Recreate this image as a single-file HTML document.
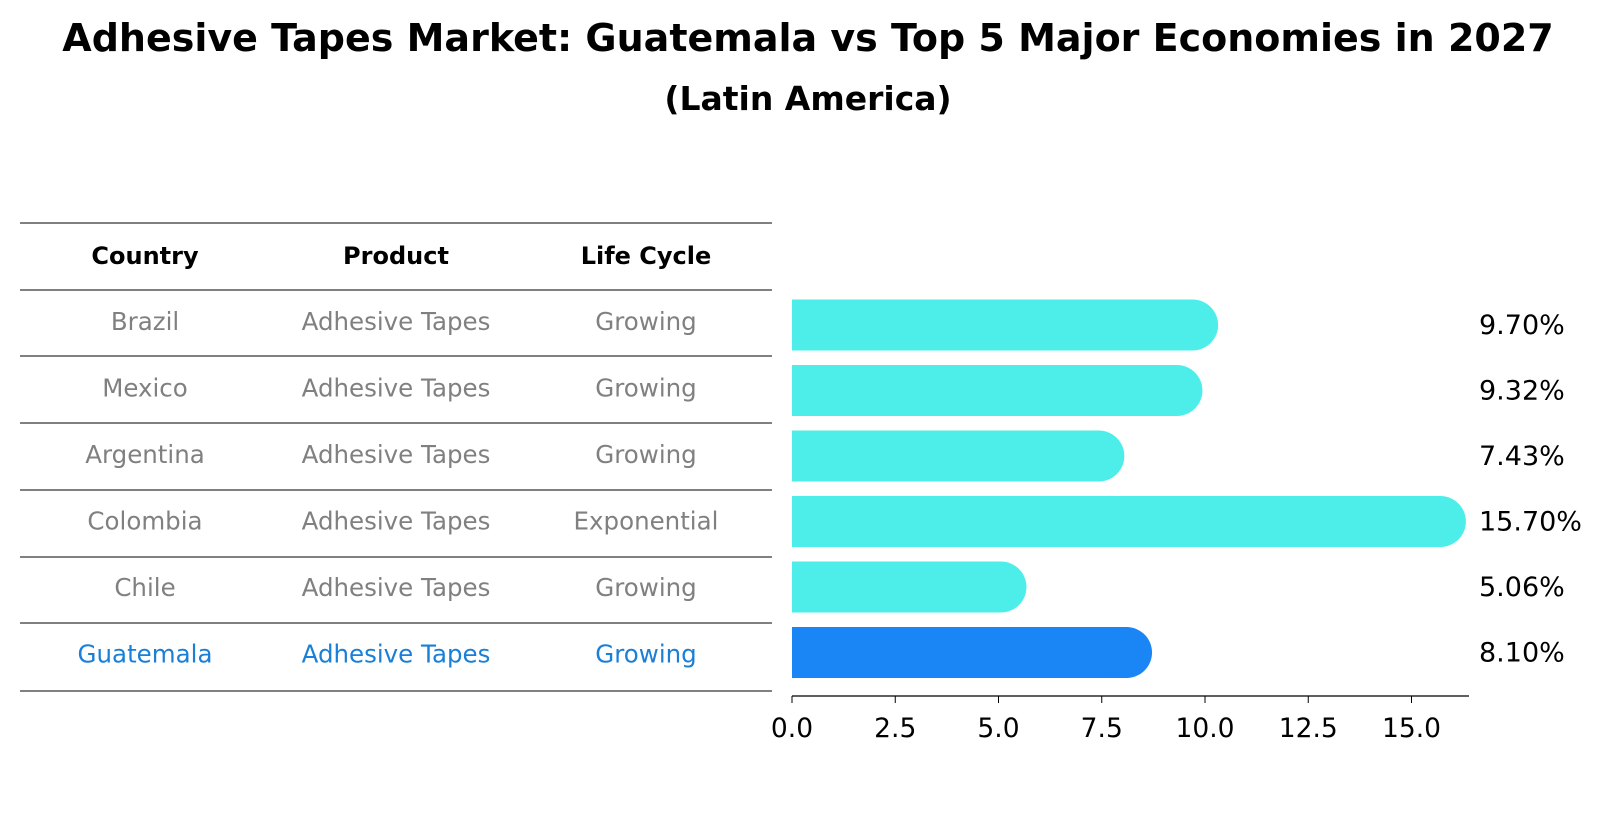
<!DOCTYPE html>
<html><head><meta charset="utf-8"><style>
body{margin:0;background:#fff;font-family:"Liberation Sans","DejaVu Sans",sans-serif;}
svg text{font-family:"DejaVu Sans","Liberation Sans",sans-serif;}
</style></head><body>
<svg id="c" width="1604" height="823" xmlns="http://www.w3.org/2000/svg">
<text x="808" y="51" text-anchor="middle" font-size="38" font-weight="bold">Adhesive Tapes Market: Guatemala vs Top 5 Major Economies in 2027</text>
<text x="808" y="110" text-anchor="middle" font-size="33" font-weight="bold">(Latin America)</text>
<g id="tbl"></g>
<g id="bars"></g>
</svg>
<script>
const countries=["Brazil","Mexico","Argentina","Colombia","Chile","Guatemala"];
const products=["Adhesive Tapes","Adhesive Tapes","Adhesive Tapes","Adhesive Tapes","Adhesive Tapes","Adhesive Tapes"];
const cycles=["Growing","Growing","Growing","Exponential","Growing","Growing"];
const values=[9.70,9.32,7.43,15.70,5.06,8.10];
const ticks=[0,2.5,5,7.5,10,12.5,15];
const NS="http://www.w3.org/2000/svg";
function mk(t,a,p){const e=document.createElementNS(NS,t);for(const k in a)e.setAttribute(k,a[k]);p.appendChild(e);return e;}
const tbl=document.getElementById('tbl'),bars=document.getElementById('bars');
const x=v=>792+v*41.3;
const rowY=i=>322+i*66.5;
const colX=[145,396,646];
const lineYs=[223,290,356,423,490,557,623,691];
lineYs.forEach((y,i)=>{const l=mk('line',{x1:20,x2:772,y1:y,y2:y,stroke:'#000','stroke-width':1},tbl);

});
["Country","Product","Life Cycle"].forEach((h,j)=>{const t=mk('text',{x:colX[j],y:264,'text-anchor':'middle','font-size':24,'font-weight':'bold'},tbl);t.textContent=h;

});
countries.forEach((c,i)=>{
 const col=c==="Guatemala"?'#1a7fd6':'#808080';
 [c,products[i],cycles[i]].forEach((s,j)=>{const t=mk('text',{x:colX[j],y:rowY(i)+8,'text-anchor':'middle','font-size':24.5,fill:col},tbl);t.textContent=s;
 
 });
 const cy=325+i*65.5, h=51, fill=c==="Guatemala"?'#1a85f5':'#4deeea';
 const g=mk('g',{},bars);
 
 
 mk('rect',{x:x(0),y:cy-h/2,width:x(values[i])-x(0),height:h,fill:fill},g);
 mk('circle',{cx:x(values[i]),cy:cy,r:h/2,fill:fill},g);
 const t=mk('text',{x:1479,y:cy+9,'font-size':27},bars);t.textContent=values[i].toFixed(2)+'%';
 
 
});
const ax=mk('line',{x1:x(0),x2:1469,y1:696,y2:696,stroke:'#000','stroke-width':1.2},bars);


ticks.forEach(v=>{mk('line',{x1:x(v),x2:x(v),y1:696,y2:703,stroke:'#000'},bars);
 const t=mk('text',{x:x(v),y:737,'text-anchor':'middle','font-size':26.5},bars);t.textContent=v.toFixed(1);
 
 });
</script>
</body></html>
